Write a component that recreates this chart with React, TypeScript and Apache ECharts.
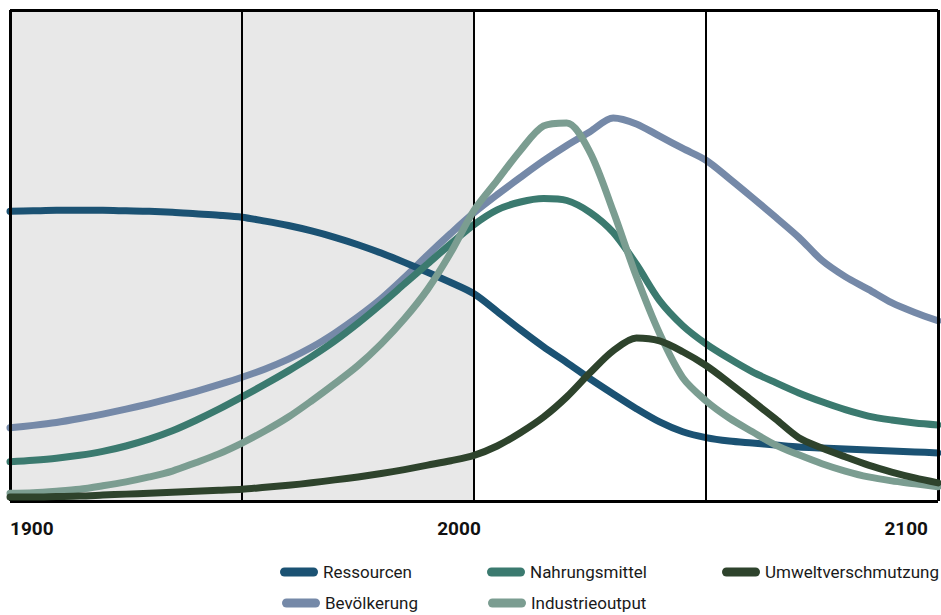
import React, { useEffect, useRef } from "react";
import * as echarts from "echarts";

const years = [
  1900, 1905, 1910, 1915, 1920, 1925, 1930, 1935, 1940, 1945,
  1950, 1955, 1960, 1965, 1970, 1975, 1980, 1985, 1990, 1995,
  2000, 2005, 2010, 2015, 2020, 2025, 2030, 2035, 2040, 2045,
  2050, 2055, 2060, 2065, 2070, 2075, 2080, 2085, 2090, 2095, 2100,
];

const ressourcen = [
  59.0, 59.1, 59.2, 59.2, 59.2, 59.1, 59.0, 58.8, 58.5, 58.2,
  57.8, 57.0, 56.1, 55.0, 53.7, 52.2, 50.5, 48.6, 46.6, 44.5,
  42.2, 38.6, 34.9, 31.4, 28.2, 24.9, 21.8, 18.8, 16.1, 14.1,
  12.9, 12.2, 11.8, 11.4, 11.0, 10.8, 10.6, 10.4, 10.2, 10.0, 9.8,
];

const bevoelkerung = [
  14.9, 15.4, 16.0, 16.8, 17.7, 18.7, 19.8, 21.0, 22.3, 23.7,
  25.2, 26.9, 28.9, 31.3, 34.2, 37.5, 41.2, 45.5, 50.1, 54.5,
  58.7, 62.4, 65.9, 69.3, 72.4, 75.2, 78.0, 76.8, 74.3, 71.8,
  69.4, 65.7, 61.8, 57.8, 53.7, 49.0, 45.7, 43.1, 40.4, 38.4, 36.7,
];

const nahrungsmittel = [
  8.0, 8.3, 8.7, 9.3, 10.1, 11.2, 12.6, 14.3, 16.4, 18.7,
  21.2, 23.8, 26.5, 29.4, 32.6, 36.2, 40.1, 44.2, 48.3, 52.4,
  56.3, 59.3, 60.9, 61.6, 61.2, 58.8, 54.7, 48.2, 40.8, 35.7,
  32.0, 29.0, 26.3, 24.1, 22.0, 20.2, 18.6, 17.3, 16.5, 15.9, 15.5,
];

const industrieoutput = [
  1.6, 1.7, 2.0, 2.4, 3.1, 3.9, 4.9, 6.1, 7.8, 9.6,
  11.8, 14.3, 17.1, 20.4, 23.9, 27.6, 32.0, 37.1, 43.1, 50.6,
  59.2, 65.3, 71.4, 76.4, 77.0, 71.0, 59.0, 45.7, 34.1, 25.1,
  20.4, 16.9, 14.1, 11.4, 9.4, 7.6, 6.1, 4.9, 4.1, 3.5, 2.9,
];

const umweltverschmutzung = [
  0.8, 0.8, 0.9, 1.0, 1.2, 1.4, 1.6, 1.8, 2.0, 2.2,
  2.4, 2.8, 3.2, 3.7, 4.3, 4.9, 5.6, 6.4, 7.3, 8.2,
  9.3, 11.2, 13.9, 17.1, 21.2, 26.1, 30.6, 33.2, 32.6, 30.4,
  27.6, 24.1, 20.4, 16.7, 12.9, 10.8, 9.0, 7.3, 5.9, 4.7, 3.7,
];

const xMin = 1900;
const xMax = 2100;
const xTickInterval = 100;
const shadedRange = [1900, 2000];
const dividerYears = [1950, 2000, 2050];

const FONT = "Roboto, 'Liberation Sans', sans-serif";

const PILL = "path://M4.5,0 H33.5 A4.5,4.5 0 0 1 33.5,9 H4.5 A4.5,4.5 0 0 1 4.5,0 Z";

export default function App() {
  const ref = useRef<HTMLDivElement>(null);

  useEffect(() => {
    if (!ref.current) return;
    const chart = echarts.init(ref.current, null, { renderer: "svg" });

    const toPairs = (vals: number[]) => years.map((y, i) => [y, vals[i]]);

    const lineSeries = (name: string, vals: number[], color: string, z: number) => ({
      name,
      type: "line",
      data: toPairs(vals),
      smooth: 0.3,
      showSymbol: false,
      symbol: "none",
      color,
      lineStyle: { color, width: 7, cap: "round", join: "round" },
      itemStyle: { color },
      z,
      silent: true,
    });

    const legendItem = (name: string, left: number, top: number) => ({
      data: [name],
      left,
      top,
      padding: 0,
      itemGap: 0,
      icon: PILL,
      itemWidth: 38,
      itemHeight: 9,
      selectedMode: false,
      textStyle: {
        fontFamily: FONT,
        fontSize: 17,
        color: "#1a1a1a",
        lineHeight: 22,
      },
    });

    const labelStyle = { fontFamily: FONT, fontSize: 19, fontWeight: "bold", color: "#111111" };

    const option = {
      animation: false,
      backgroundColor: "#ffffff",
      grid: { left: 10, right: 3, top: 10, bottom: 114, containLabel: false },
      legend: [
        legendItem("Ressourcen", 280, 561),
        legendItem("Nahrungsmittel", 487, 561),
        legendItem("Umweltverschmutzung", 722, 561),
        legendItem("Bevölkerung", 282, 592),
        legendItem("Industrieoutput", 488, 592),
      ],
      xAxis: {
        type: "value",
        min: xMin,
        max: xMax,
        interval: xTickInterval,
        axisLine: { show: false },
        axisTick: { show: false },
        splitLine: { show: false },
        axisLabel: {
          margin: 18,
          ...labelStyle,
          alignMinLabel: "left",
          alignMaxLabel: "right",
          formatter: (v: number) =>
            v === 2000 ? "{mid|" + v + "}" : v === 2100 ? "{max|" + v + "}" : "{min|" + v + "}",
          rich: {
            min: { ...labelStyle },
            mid: { ...labelStyle, padding: [0, 30, 0, 0] },
            max: { ...labelStyle, padding: [0, 10, 0, 0] },
          },
        },
      },
      yAxis: {
        type: "value",
        min: 0,
        max: 100,
        show: false,
        splitLine: { show: false },
      },
      series: [
        {
          name: "__shade",
          type: "line",
          data: [],
          z: 0,
          silent: true,
          markArea: {
            silent: true,
            itemStyle: { color: "#e8e8e8" },
            data: [[{ xAxis: shadedRange[0] }, { xAxis: shadedRange[1] }]],
          },
        },
        lineSeries("Bevölkerung", bevoelkerung, "#7589a8", 2),
        lineSeries("Ressourcen", ressourcen, "#1b5273", 3),
        lineSeries("Nahrungsmittel", nahrungsmittel, "#3b7a6f", 4),
        lineSeries("Industrieoutput", industrieoutput, "#7b9d91", 5),
        lineSeries("Umweltverschmutzung", umweltverschmutzung, "#2e432c", 6),
        {
          name: "__frame",
          type: "line",
          data: [],
          z: 10,
          silent: true,
          markLine: {
            silent: true,
            symbol: "none",
            label: { show: false },
            lineStyle: { color: "#000000", width: 2, type: "solid" },
            data: [
              ...dividerYears.map((y) => ({ xAxis: y })),
              { xAxis: xMin, lineStyle: { color: "#000000", width: 3, type: "solid" } },
              { xAxis: xMax, lineStyle: { color: "#000000", width: 3, type: "solid" } },
              { yAxis: 0, lineStyle: { color: "#000000", width: 3, type: "solid" } },
              { yAxis: 100, lineStyle: { color: "#000000", width: 3, type: "solid" } },
            ],
          },
        },
      ],
    };

    chart.setOption(option as any);
    return () => chart.dispose();
  }, []);

  return (
    <div
      ref={ref}
      style={{ position: "fixed", left: 0, top: 0, width: 941, height: 615 }}
    />
  );
}
